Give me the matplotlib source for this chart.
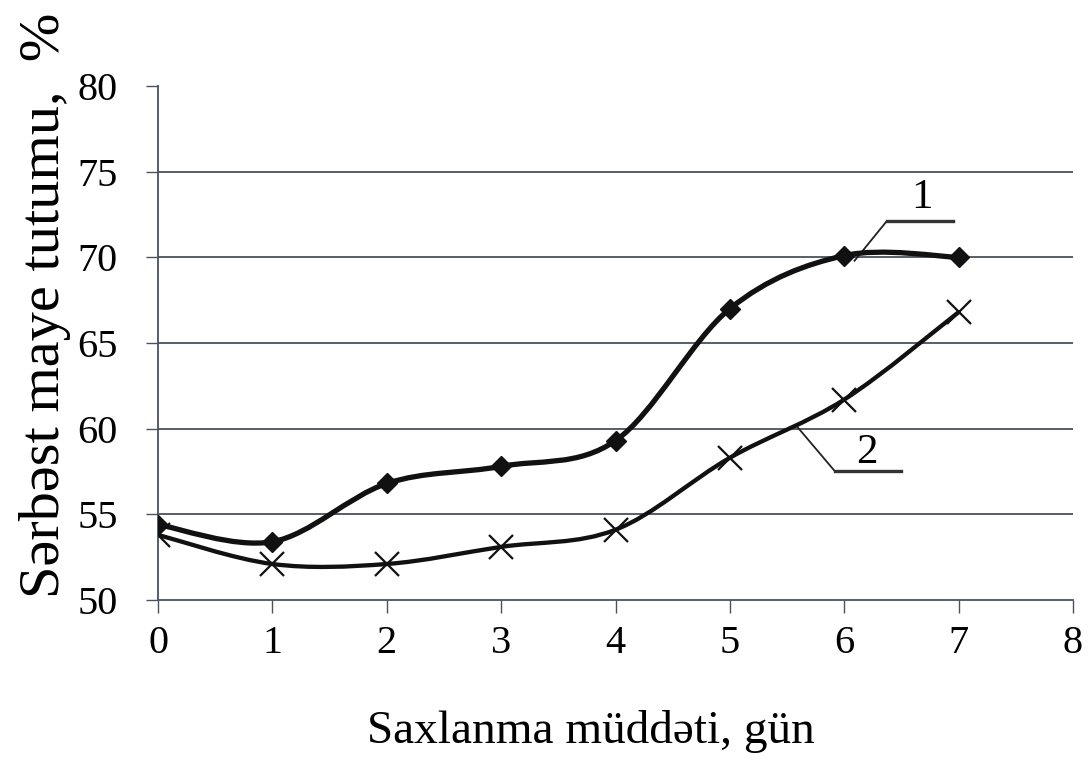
import numpy as np
import matplotlib.pyplot as plt
from matplotlib.path import Path
from matplotlib.patches import PathPatch

# data
days = [0, 1, 2, 3, 4, 5, 6, 7]
curve1 = [54.4, 53.4, 56.8, 57.8, 59.3, 67.0, 70.1, 70.0]
curve2 = [53.8, 52.1, 52.1, 53.1, 54.1, 58.3, 61.7, 66.8]
yticks = [50, 55, 60, 65, 70, 75, 80]
xticks = [0, 1, 2, 3, 4, 5, 6, 7, 8]
grid_levels = [55, 60, 65, 70, 75]

plt.rcParams['font.family'] = ['Liberation Serif', 'DejaVu Serif']


def smooth_path(x, y):
    """Excel-like smoothed line: Catmull-Rom converted to cubic Bezier."""
    p = np.column_stack([x, y]).astype(float)
    ext = np.vstack([p[0], p, p[-1]])
    verts = [p[0]]
    codes = [Path.MOVETO]
    for i in range(len(p) - 1):
        a, b, c, d = ext[i], ext[i + 1], ext[i + 2], ext[i + 3]
        verts += [b + (c - a) / 6, c - (d - b) / 6, c]
        codes += [Path.CURVE4] * 3
    return Path(verts, codes)


fig = plt.figure(figsize=(10.89, 7.79), dpi=100)
ax = fig.add_axes([0.1451, 0.2298, 0.8402, 0.6598])

axis_col = '#4a525c'
ax.hlines(grid_levels, 0, 8, color=axis_col, lw=1.3, zorder=1)

for ys, lw in [(curve1, 3.8), (curve2, 3.1)]:
    ax.add_patch(PathPatch(smooth_path(days, ys), facecolor='none',
                           edgecolor='#111111', lw=lw, zorder=3))

ax.plot(days, curve1, ls='none', marker='D', ms=10.5, color='#111111', zorder=4)
ax.plot(days, curve2, ls='none', marker='x', ms=17, mew=1.6, color='#111111', zorder=4)

# curve labels with leader lines
ax.plot([6.09, 6.37], [69.8, 72.1], color='#222222', lw=1.3, zorder=2)
ax.plot([6.37, 6.95], [72.1, 72.1], color='#333333', lw=2.4, zorder=2)
ax.text(6.68, 73.5, '1', fontsize=31, ha='center', va='center')
ax.plot([5.59, 5.92], [60.1, 57.5], color='#222222', lw=1.3, zorder=2)
ax.plot([5.92, 6.5], [57.5, 57.5], color='#333333', lw=2.4, zorder=2)
ax.text(6.2, 58.6, '2', fontsize=31, ha='center', va='center')

ax.set_xlim(0, 8)
ax.set_ylim(50, 80)
ax.set_xticks(xticks)
ax.set_yticks(yticks)
ax.tick_params(axis='y', length=9, width=1, pad=20, color=axis_col, labelsize=29)
ax.tick_params(axis='x', length=9, width=1, pad=9, color=axis_col, labelsize=29)
for s in ['top', 'right']:
    ax.spines[s].set_visible(False)
for s in ['left', 'bottom']:
    ax.spines[s].set_color(axis_col)
    ax.spines[s].set_linewidth(1.3)

ax.set_xlabel('Saxlanma müddəti, gün', fontsize=34)
ax.xaxis.set_label_coords(0.473, -0.215)
fig.text(0.041, 1 - 305 / 779, 'Sərbəst maye tutumu,  %', rotation=90,
         fontsize=42, ha='center', va='center')

fig.savefig('out.png', dpi=100)
